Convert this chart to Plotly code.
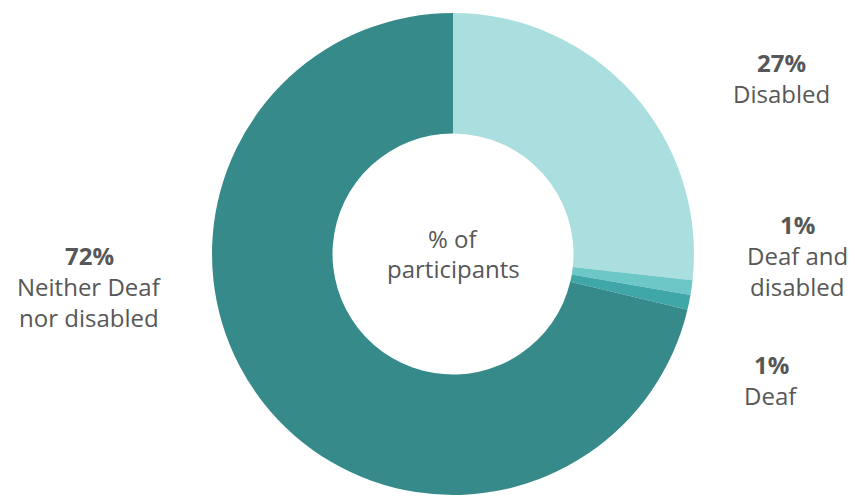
import plotly.graph_objects as go

# Share of participants by group, clockwise from 12 o'clock
groups = ["Disabled", "Deaf and disabled", "Deaf", "Neither Deaf nor disabled"]
shares = [27, 1, 1, 72]
label_lines = [["Disabled"], ["Deaf and", "disabled"], ["Deaf"], ["Neither Deaf", "nor disabled"]]
colors = ["#abdfdf", "#6ec7c7", "#3fa7a7", "#378a8a"]

W, H = 855, 496
cx, cy, r_out = 453, 254, 241
font_family = "Open Sans, Lato, sans-serif"
text_color = "#575757"
font_size = 24
line_step = 31

fig = go.Figure(
    go.Pie(
        labels=groups,
        values=shares,
        hole=0.5,
        sort=False,
        direction="clockwise",
        rotation=0,
        marker=dict(colors=colors, line=dict(width=0)),
        textinfo="none",
        hoverinfo="label+percent",
        showlegend=False,
        domain=dict(
            x=[(cx - r_out) / W, (cx + r_out) / W],
            y=[1 - (cy + r_out) / H, 1 - (cy - r_out) / H],
        ),
    )
)


def text_at(px, py, text, weight=400):
    return dict(
        x=px / W,
        y=1 - py / H,
        xref="paper",
        yref="paper",
        xanchor="center",
        yanchor="middle",
        showarrow=False,
        align="center",
        text=text,
        font=dict(family=font_family, size=font_size, color=text_color, weight=weight),
    )


# Centre (x) and first-line middle (y) of each outside label, in pixels
label_pos = [(781, 63), (797, 224), (771, 364), (89, 255)]

annotations = []
for share, lines, (px, py) in zip(shares, label_lines, label_pos):
    annotations.append(text_at(px, py, f"{share}%", weight=700))
    for i, line in enumerate(lines, start=1):
        annotations.append(text_at(px, py + i * line_step, line))

annotations.append(text_at(cx, 238, "% of", weight=500))
annotations.append(text_at(cx, 268, "participants", weight=500))

fig.update_layout(
    width=W,
    height=H,
    margin=dict(l=0, r=0, t=0, b=0),
    paper_bgcolor="white",
    plot_bgcolor="white",
    annotations=annotations,
)

fig.write_html("out.html")
